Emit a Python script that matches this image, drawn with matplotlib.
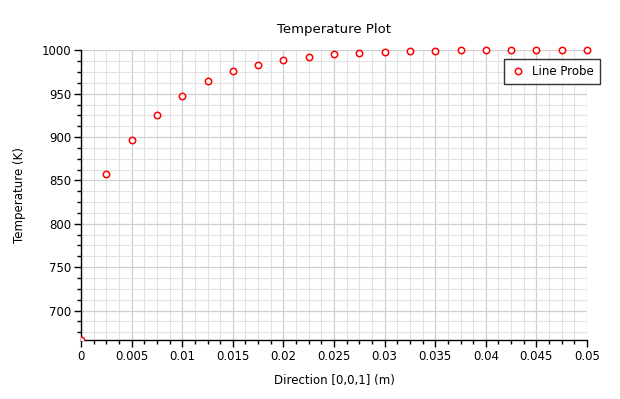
import matplotlib

matplotlib.use("Agg")
import matplotlib.pyplot as plt
from matplotlib.patches import Rectangle
from matplotlib.ticker import FuncFormatter, MultipleLocator

# Line probe samples
position = [
    0.0, 0.0025, 0.005, 0.0075, 0.01, 0.0125, 0.015, 0.0175, 0.02, 0.0225,
    0.025, 0.0275, 0.03, 0.0325, 0.035, 0.0375, 0.04, 0.0425, 0.045, 0.0475, 0.05,
]
temperature = [
    666.0, 856.9, 896.1, 925.9, 947.2, 964.6, 975.9, 983.1, 988.5, 992.3,
    995.7, 996.9, 998.0, 999.1, 999.2, 1000.2, 1000.2, 1000.2, 1000.2, 1000.2, 1000.2,
]
series_label = "Line Probe"

plt.rcParams["font.family"] = "DejaVu Sans"

fig = plt.figure(figsize=(6.2, 3.99), dpi=100)
ax = fig.add_axes([81 / 620, 1 - 340 / 399, 506 / 620, 290 / 399])

(line,) = ax.plot(
    position,
    temperature,
    linestyle="none",
    marker="o",
    markersize=4.6,
    markerfacecolor="white",
    markeredgecolor="red",
    markeredgewidth=1.1,
    label=series_label,
    zorder=3,
)
# markers may overhang the top/right edge but are cut at the left/bottom
clip_box = Rectangle((0, 0), 1.1, 1.2, transform=ax.transAxes, visible=False)
ax.add_patch(clip_box)
line.set_clip_path(clip_box)

ax.set_xlim(0, 0.05)
ax.set_ylim(666.0, 1000.4)

ax.xaxis.set_major_locator(MultipleLocator(0.005))
ax.xaxis.set_minor_locator(MultipleLocator(0.00125))
ax.yaxis.set_major_locator(MultipleLocator(50))
ax.yaxis.set_minor_locator(MultipleLocator(12.5))
ax.xaxis.set_major_formatter(FuncFormatter(lambda v, _: f"{v:g}"))

ax.grid(which="minor", color="#e2e2e2", linewidth=0.8)
ax.grid(which="major", color="#cfcfcf", linewidth=0.9)
ax.set_axisbelow(True)

for side in ["top", "right"]:
    ax.spines[side].set_visible(False)
for side in ["left", "bottom"]:
    ax.spines[side].set_linewidth(1.0)

ax.tick_params(which="major", direction="out", length=5, width=1, labelsize=8.5, pad=2)
ax.tick_params(which="minor", direction="out", length=3, width=1)

ax.set_title("Temperature Plot", fontsize=9.5, pad=12)
ax.set_xlabel("Direction [0,0,1] (m)", fontsize=8.5, labelpad=8)
ax.set_ylabel("Temperature (K)", fontsize=8.5, labelpad=11)

leg = fig.legend(
    loc="upper left",
    bbox_to_anchor=(504 / 620, 1 - 59 / 399),
    fontsize=8.5,
    frameon=True,
    fancybox=False,
    handletextpad=0.5,
    borderpad=0.5,
    borderaxespad=0,
    handlelength=1.4,
)
leg.get_frame().set_edgecolor("black")
leg.get_frame().set_linewidth(1.0)

fig.savefig("out.png", dpi=100)
